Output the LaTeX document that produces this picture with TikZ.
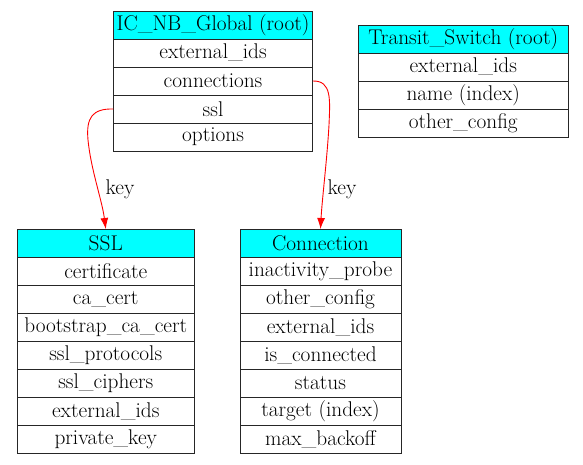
\documentclass[tikz,border=0pt]{standalone}
\usetikzlibrary{arrows.meta}
\definecolor{aquahead}{RGB}{0,255,255}
\begin{document}
\begin{tikzpicture}[x=1pt,y=-1pt,
  cell/.style={draw=black!85,line width=1pt,inner sep=0pt,minimum height=28pt,anchor=north west,font=\fontsize{21.3}{24}\selectfont},
  head/.style={cell,fill=aquahead},
  fk/.style={draw=red,line width=0.9pt,-{Latex[length=11pt,width=8pt]}},
  lbl/.style={font=\fontsize{21.3}{24}\selectfont,inner sep=0pt}]
\useasboundingbox (0,0) rectangle (583,464);
% IC_NB_Global
\begin{scope}[every node/.append style={minimum width=198.5pt}]
\node[head] (gH) at (113.3,10.5) {IC\_NB\_Global (root)};
\node[cell] (gE) at (113.3,38.5) {external\_ids};
\node[cell] (gC) at (113.3,66.5) {connections};
\node[cell] (gS) at (113.3,94.5) {ssl};
\node[cell] (gO) at (113.3,122.5) {options};
\end{scope}
% Transit_Switch
\begin{scope}[every node/.append style={minimum width=210.5pt}]
\node[head] (tH) at (357.5,24.5) {Transit\_Switch (root)};
\node[cell] (tE) at (357.5,52.5) {external\_ids};
\node[cell] (tN) at (357.5,80.5) {name (index)};
\node[cell] (tO) at (357.5,108.5) {other\_config};
\end{scope}
% SSL
\begin{scope}[every node/.append style={minimum width=177.5pt}]
\node[head] (sH) at (16.5,229) {SSL};
\node[cell] (s1) at (16.5,257) {certificate};
\node[cell] (s2) at (16.5,285) {ca\_cert};
\node[cell] (s3) at (16.5,313) {bootstrap\_ca\_cert};
\node[cell] (s4) at (16.5,341) {ssl\_protocols};
\node[cell] (s5) at (16.5,369) {ssl\_ciphers};
\node[cell] (s6) at (16.5,397) {external\_ids};
\node[cell] (s7) at (16.5,425) {private\_key};
\end{scope}
% Connection
\begin{scope}[every node/.append style={minimum width=161pt}]
\node[head] (cH) at (239.5,229) {Connection};
\node[cell] (c1) at (239.5,257) {inactivity\_probe};
\node[cell] (c2) at (239.5,285) {other\_config};
\node[cell] (c3) at (239.5,313) {external\_ids};
\node[cell] (c4) at (239.5,341) {is\_connected};
\node[cell] (c5) at (239.5,369) {status};
\node[cell] (c6) at (239.5,397) {target (index)};
\node[cell] (c7) at (239.5,425) {max\_backoff};
\end{scope}
% edges
\draw[fk] (gS.west) .. controls (92,108.5) and (86,118) .. (88,140)
  .. controls (91,170) and (102,200) .. (sH.north);
\draw[fk] (gC.east) .. controls (332,80.5) and (330,100) .. (329,125)
  .. controls (327,160) and (322,200) .. (cH.north);
\node[lbl] (k1) at (120,189) {key};
\node[lbl] (k2) at (342,189) {key};
\end{tikzpicture}
\end{document}
